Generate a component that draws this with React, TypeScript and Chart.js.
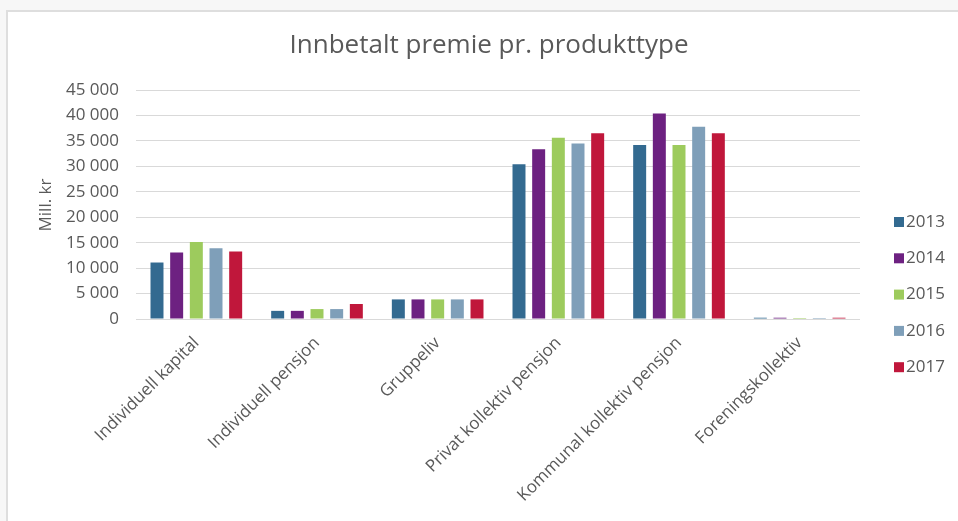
import React, { useEffect, useRef } from "react";
import { Chart, registerables } from "chart.js";

Chart.register(...registerables);

// Product types (x-axis categories)
const categories = [
  "Individuell kapital",
  "Individuell pensjon",
  "Gruppeliv",
  "Privat kollektiv pensjon",
  "Kommunal kollektiv pensjon",
  "Foreningskollektiv",
];

// Paid-in premiums, million NOK, per year
const years = ["2013", "2014", "2015", "2016", "2017"];
const values2013 = [11100, 1600, 3850, 30400, 34200, 250];
const values2014 = [13050, 1600, 3850, 33350, 40400, 250];
const values2015 = [15150, 1950, 3850, 35600, 34200, 200];
const values2016 = [13900, 1950, 3850, 34500, 37800, 200];
const values2017 = [13250, 2950, 3850, 36500, 36500, 250];
const seriesValues = [values2013, values2014, values2015, values2016, values2017];

const yearColors = ["#336a90", "#6d2181", "#9dcb5d", "#7f9fb9", "#c0173b"];

const titleText = "Innbetalt premie pr. produkttype";
const yAxisTitle = "Mill. kr";

const FONT = "'Open Sans', 'Noto Sans', sans-serif";
const TEXT_COLOR = "#595959";

const formatThousands = (v: number) =>
  String(Math.round(v)).replace(/\B(?=(\d{3})+(?!\d))/g, " ");

// Title, y-axis caption and the right-hand legend
const decorations = {
  id: "decorations",
  afterDraw(chart: Chart) {
    const ctx = chart.ctx;
    ctx.save();
    ctx.fillStyle = TEXT_COLOR;

    ctx.font = `26px ${FONT}`;
    ctx.textAlign = "center";
    ctx.textBaseline = "middle";
    ctx.fillText(titleText, 489, 46);

    ctx.save();
    ctx.translate(46, 205);
    ctx.rotate(-Math.PI / 2);
    ctx.font = `17px ${FONT}`;
    ctx.fillText(yAxisTitle, 0, 0);
    ctx.restore();

    ctx.font = `17px ${FONT}`;
    ctx.textAlign = "left";
    years.forEach((year, i) => {
      const cy = 222 + i * 36.3;
      ctx.fillStyle = yearColors[i];
      ctx.fillRect(894, cy - 5, 10, 10);
      ctx.fillStyle = TEXT_COLOR;
      ctx.fillText(year, 906, cy);
    });
    ctx.restore();
  },
};

export default function App() {
  const canvasRef = useRef<HTMLCanvasElement | null>(null);

  useEffect(() => {
    const canvas = canvasRef.current;
    if (!canvas) return;
    const chart = new Chart(canvas, {
      type: "bar",
      data: {
        labels: categories,
        datasets: years.map((year, i) => ({
          label: year,
          data: seriesValues[i],
          backgroundColor: yearColors[i],
          borderWidth: 0,
          categoryPercentage: 0.815,
          barPercentage: 0.66,
        })),
      },
      options: {
        responsive: false,
        animation: false,
        layout: { padding: { left: 0, top: 90, right: 98, bottom: 0 } },
        plugins: {
          legend: { display: false },
          title: { display: false },
          tooltip: { enabled: false },
        },
        scales: {
          x: {
            grid: { display: false },
            border: { display: false },
            ticks: {
              autoSkip: false,
              minRotation: 45,
              maxRotation: 45,
              padding: 6,
              color: TEXT_COLOR,
              font: { family: FONT, size: 17 },
            },
            afterFit: (scale: any) => {
              scale.height = 202;
            },
          },
          y: {
            min: 0,
            max: 45000,
            grid: { color: "#d9d9d9", drawTicks: false, lineWidth: 1 },
            border: { display: false },
            ticks: {
              stepSize: 5000,
              padding: 17,
              color: TEXT_COLOR,
              font: { family: FONT, size: 17 },
              callback: (v: any) => formatThousands(Number(v)),
            },
            afterFit: (scale: any) => {
              scale.width = 136;
            },
          },
        },
      },
      plugins: [decorations],
    });
    return () => chart.destroy();
  }, []);

  return (
    <div
      style={{
        position: "fixed",
        left: 0,
        top: 0,
        width: 958,
        height: 521,
        background: "#f7f7f7",
        overflow: "hidden",
      }}
    >
      <div
        style={{
          position: "absolute",
          left: 6,
          top: 10,
          width: 952,
          height: 511,
          background: "#ffffff",
          borderTop: "2px solid #dedede",
          borderLeft: "2px solid #dedede",
          boxSizing: "border-box",
        }}
      />
      <canvas
        ref={canvasRef}
        width={958}
        height={521}
        style={{ position: "absolute", left: 0, top: 0, width: 958, height: 521 }}
      />
    </div>
  );
}
